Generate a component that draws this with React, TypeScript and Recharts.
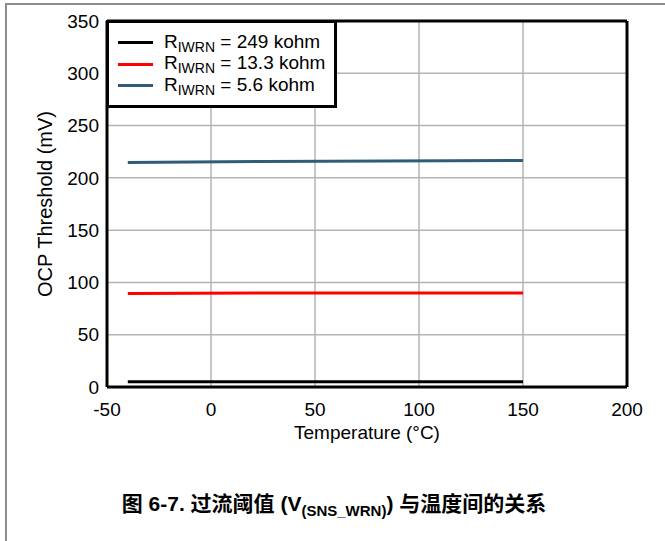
import {
  LineChart,
  Line,
  XAxis,
  YAxis,
  CartesianGrid,
  ReferenceLine,
} from "recharts";

// temperature sweep (°C)
const temps = [-40, 25, 150];
// OCP threshold (mV) per IWRN resistor
const r249k = [5, 5, 5];
const r13k3 = [89.5, 89.8, 90];
const r5k6 = [214.6, 215.6, 216.6];

const xTicks = [-50, 0, 50, 100, 150, 200];
const yTicks = [0, 50, 100, 150, 200, 250, 300, 350];

const series = [
  { key: "r249k", label: "= 249 kohm", color: "#000000", values: r249k },
  { key: "r13k3", label: "= 13.3 kohm", color: "#ff0000", values: r13k3 },
  { key: "r5k6", label: "= 5.6 kohm", color: "#2f5d78", values: r5k6 },
];

const data = temps.map((t, i) => {
  const row: Record<string, number> = { t };
  series.forEach((s) => (row[s.key] = s.values[i]));
  return row;
});

const FONT = '"Liberation Sans", Arial, sans-serif';
const W = 665;
const H = 541;
const PLOT = { left: 107, top: 21, right: 627, bottom: 387 };

function XTitle(props: any) {
  const vb = props.viewBox || {};
  return (
    <text
      x={vb.x + vb.width / 2}
      y={439}
      textAnchor="middle"
      fontSize={19}
      fontFamily={FONT}
      fill="#000"
    >
      Temperature (°C)
    </text>
  );
}

function YTitle(props: any) {
  const vb = props.viewBox || {};
  const cy = vb.y + vb.height / 2;
  return (
    <text
      x={52}
      y={cy}
      transform={`rotate(-90, 52, ${cy})`}
      textAnchor="middle"
      fontSize={20}
      fontFamily={FONT}
      fill="#000"
    >
      OCP Threshold (mV)
    </text>
  );
}

function LegendBox() {
  return (
    <div
      style={{
        position: "absolute",
        left: PLOT.left - 1,
        top: PLOT.top - 1,
        width: 231,
        height: 88,
        boxSizing: "border-box",
        border: "3px solid #000",
        background: "#fff",
        fontFamily: FONT,
        fontSize: 19,
        paddingTop: 9,
      }}
    >
      {series.map((s) => (
        <div
          key={s.key}
          style={{ display: "flex", alignItems: "center", height: 21.5 }}
        >
          <span
            style={{
              display: "inline-block",
              width: 35,
              height: 3,
              background: s.color,
              marginLeft: 9,
              marginRight: 11,
            }}
          />
          <span style={{ whiteSpace: "nowrap", color: "#000" }}>
            R<sub style={{ fontSize: 14, verticalAlign: -4 }}>IWRN</sub> {s.label}
          </span>
        </div>
      ))}
    </div>
  );
}

export default function App() {
  return (
    <div
      style={{
        position: "absolute",
        left: 0,
        top: 0,
        width: W,
        height: H,
        background: "#fff",
        overflow: "hidden",
      }}
    >
      {/* outer frame: only top and left edges show */}
      <div
        style={{
          position: "absolute",
          left: 5,
          top: 3,
          width: W,
          height: H,
          borderTop: "2px solid #8c8c8c",
          borderLeft: "2px solid #8c8c8c",
        }}
      />
      <div style={{ position: "absolute", left: 0, top: 0 }}>
        <LineChart
          width={W}
          height={H}
          data={data}
          margin={{
            top: PLOT.top,
            right: W - PLOT.right,
            left: 0,
            bottom: H - PLOT.bottom - 60,
          }}
        >
          <CartesianGrid
            stroke="#b4b4b4"
            strokeWidth={1.5}
            horizontalValues={yTicks}
            verticalValues={xTicks}
          />
          <XAxis
            dataKey="t"
            type="number"
            domain={[-50, 200]}
            ticks={xTicks}
            height={60}
            tickLine={false}
            tickMargin={10}
            axisLine={{ stroke: "#000", strokeWidth: 3 }}
            tick={{ fill: "#000", fontSize: 19, fontFamily: FONT }}
            label={<XTitle />}
          />
          <YAxis
            type="number"
            domain={[0, 350]}
            ticks={yTicks}
            width={PLOT.left}
            tickLine={false}
            axisLine={{ stroke: "#000", strokeWidth: 3 }}
            tick={{ fill: "#000", fontSize: 19, fontFamily: FONT }}
            label={<YTitle />}
          />
          {/* close the frame on top and right */}
          <ReferenceLine y={350} stroke="#000" strokeWidth={3} />
          <ReferenceLine x={200} stroke="#000" strokeWidth={3} />
          {series.map((s) => (
            <Line
              key={s.key}
              dataKey={s.key}
              type="linear"
              stroke={s.color}
              strokeWidth={3}
              dot={false}
              isAnimationActive={false}
            />
          ))}
        </LineChart>
      </div>
      <LegendBox />
      <div
        style={{
          position: "absolute",
          left: 0,
          width: 668,
          top: 487,
          textAlign: "center",
          fontFamily: '"Liberation Sans", "Noto Sans CJK SC", sans-serif',
          fontWeight: 700,
          fontSize: 21,
          color: "#000",
        }}
      >
        图 6-7. 过流阈值 (V
        <sub style={{ fontSize: 15, verticalAlign: -5 }}>(SNS_WRN)</sub>) 与温度间的关系
      </div>
    </div>
  );
}
